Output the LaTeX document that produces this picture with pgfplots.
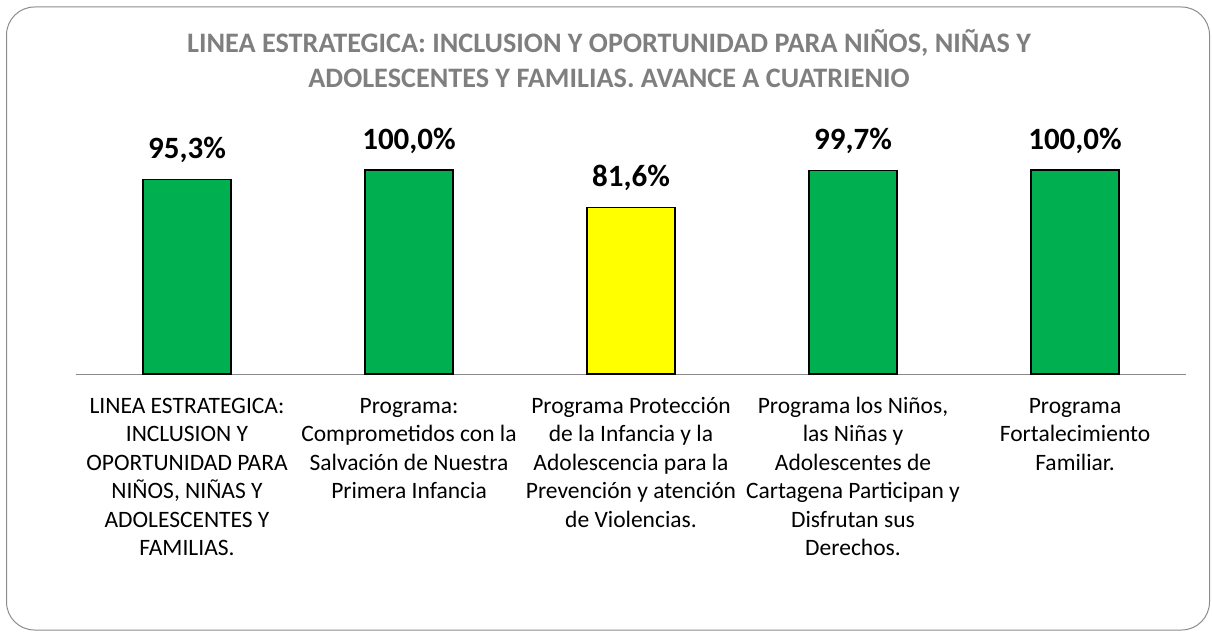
\documentclass[border=0pt]{standalone}
\usepackage{fontspec}
\setmainfont{Carlito}
\usepackage{pgfplots}
\pgfplotsset{compat=1.18}
\definecolor{bargreen}{HTML}{00B050}
\definecolor{baryellow}{HTML}{FFFF00}
\definecolor{titlegray}{HTML}{7F7F7F}
\definecolor{framegray}{HTML}{8C8C8C}
\definecolor{axisgray}{HTML}{898989}
\begin{document}
\begin{tikzpicture}
\useasboundingbox (0pt,0pt) rectangle (1212pt,633pt);
\draw[framegray, line width=1pt, rounded corners=28pt] (6.5pt,3pt) rectangle (1209.5pt,626pt);
\node[anchor=base, inner sep=0pt, font=\fontsize{28.2}{35}\selectfont\bfseries, text=titlegray] at (609pt,580pt) {LINEA ESTRATEGICA: INCLUSION Y OPORTUNIDAD PARA NIÑOS, NIÑAS Y};
\node[anchor=base, inner sep=0pt, font=\fontsize{28.2}{35}\selectfont\bfseries, text=titlegray] at (609pt,545pt) {ADOLESCENTES Y FAMILIAS. AVANCE A CUATRIENIO};
\begin{axis}[
  at={(76pt,259pt)}, anchor=south west,
  scale only axis, width=1110pt, height=204pt,
  xmin=-0.5, xmax=4.5, ymin=0, ymax=100,
  axis x line=bottom, axis y line=none,
  axis line style={-, axisgray, line width=1pt},
  xtick={0,1,2,3,4},
  major tick length=0pt,
  xticklabels={
    {\rule{0pt}{18pt}LINEA ESTRATEGICA:\\INCLUSION Y\\OPORTUNIDAD PARA\\NIÑOS, NIÑAS Y\\ADOLESCENTES Y\\FAMILIAS.},
    {\rule{0pt}{18pt}Programa:\\Comprometidos con la\\Salvación de Nuestra\\Primera Infancia},
    {\rule{0pt}{18pt}Programa Protección\\de la Infancia y la\\Adolescencia para la\\Prevención y atención\\de Violencias.},
    {\rule{0pt}{18pt}Programa los Niños,\\las Niñas y\\Adolescentes de\\Cartagena Participan y\\Disfrutan sus\\Derechos.},
    {\rule{0pt}{18pt}Programa\\Fortalecimiento\\Familiar.}},
  xticklabel style={align=center, anchor=north, inner sep=0pt, font=\fontsize{23.5}{28.5}\selectfont, yshift=-21pt},
  ybar, bar width=88pt, bar shift=0pt,
  clip=false,
  nodes near coords={\pgfmathprintnumber[fixed,fixed zerofill,precision=1,use comma,assume math mode=true]{\pgfplotspointmeta}\%},
  every node near coord/.append style={anchor=base, yshift=21pt, font=\fontsize{31}{33}\selectfont\bfseries, text=black},
]
\addplot[fill=bargreen, draw=black, line width=1.2pt] coordinates {(0,95.3) (1,100.0) (3,99.7) (4,100.0)};
\addplot[fill=baryellow, draw=black, line width=1.2pt] coordinates {(2,81.6)};
\end{axis}
\end{tikzpicture}
\end{document}
